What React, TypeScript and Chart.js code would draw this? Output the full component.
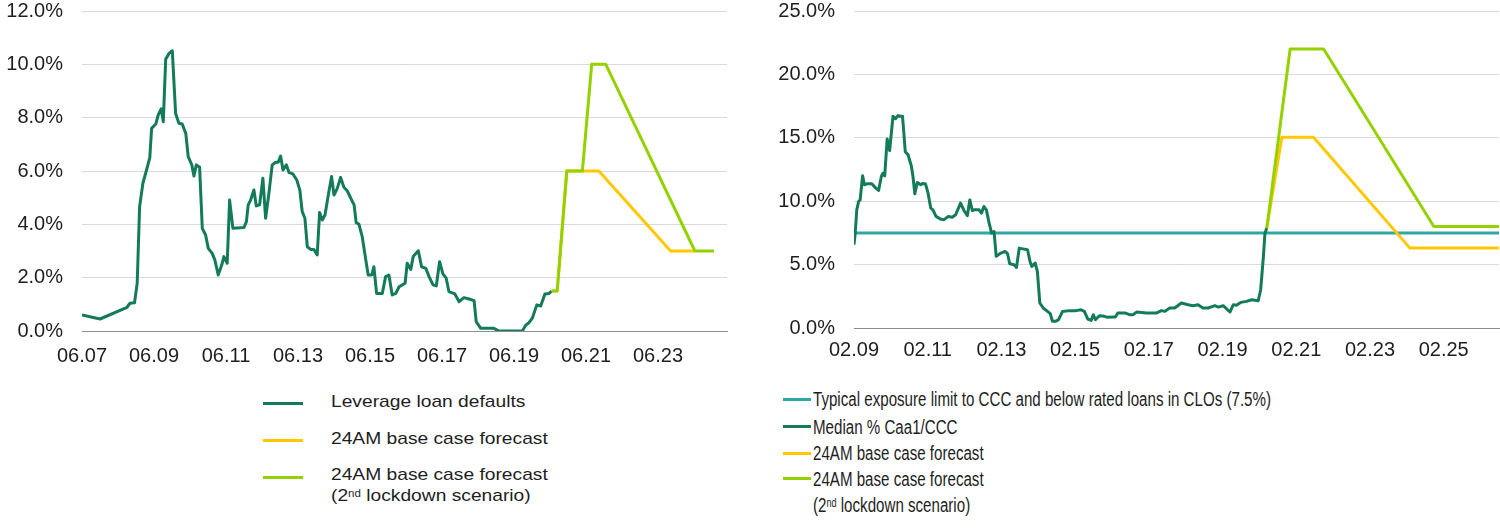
import React, { useEffect, useRef } from "react";
import { Chart, registerables } from "chart.js";

Chart.register(...registerables);

// ---------- Left chart: leverage loan defaults (x = months since 06.07) ----------
const leftTickLabels = ["06.07", "06.09", "06.11", "06.13", "06.15", "06.17", "06.19", "06.21", "06.23"];
const leftSeriesNames = [
  "Leverage loan defaults",
  "24AM base case forecast",
  "24AM base case forecast\n(2nd lockdown scenario)",
];

const defaultsMonth = [
  0, 6, 15, 16, 17.5, 18.4, 19.2, 20.3, 21.8, 22.6, 23.2, 24.6, 25.4, 26.4, 27.1, 27.9, 29, 30.1, 31.2, 32.3,
  33.4, 34.6, 35.4, 36.6, 37.3, 38.1, 39.2, 40.1, 41.2, 42.1, 43.4, 44.3, 45.4, 46.6, 47.3, 48.4, 49.2, 50.3,
  54, 54.8, 55.4, 56.2, 57.3, 58.1, 59.2, 60.3, 61.2, 62.3, 63.4, 64.6, 65.4, 66.2, 67, 68.1, 69, 70.3, 71.6,
  72.6, 73.4, 74.3, 75.1, 76.2, 77.3, 78.4, 79.2, 80.1, 81, 82.1, 83.2, 84, 85.1, 86.2, 87.3, 88.4, 89.9, 90.7,
  91.4, 92.3, 93.4, 94.6, 95.4, 96.6, 97.3, 98.2, 100.1, 101.2, 102.3, 103.4, 104.6, 105.7, 106.8, 107.7, 108.4,
  109.6, 110.4, 112.1, 113.2, 114.6, 115.7, 117, 118.1, 119.2, 120.3, 121.4, 122.3, 124.3, 125.7, 127.3, 129,
  130.7, 131.4, 132.9, 137.3, 139, 146.8, 147.9, 149, 150.1, 151.6, 152.9, 154.3, 155.7, 156.6,
];
const defaultsValue = [
  0.6, 0.45, 0.89, 1.04, 1.06, 1.79, 4.66, 5.54, 6.16, 6.5, 7.6, 7.76, 8.1, 8.33, 7.85, 10.19, 10.41, 10.51, 8.16, 7.79,
  7.76, 7.41, 6.54, 6.23, 5.81, 6.23, 6.14, 3.85, 3.6, 3.1, 2.91, 2.66, 2.1, 2.48, 2.79, 2.54, 4.91, 3.85,
  3.88, 4.1, 4.73, 4.91, 5.29, 4.69, 4.73, 5.73, 4.23, 5.16, 6.23, 6.33, 6.33, 6.56, 6.04, 6.23, 5.94, 5.89, 5.66,
  5.29, 4.48, 4.23, 3.16, 3.06, 3.06, 2.85, 4.44, 4.16, 4.35, 5.1, 5.79, 5.1, 5.35, 5.76, 5.39, 5.26, 4.91, 4.73,
  4.06, 4.01, 3.54, 2.66, 2.1, 2.1, 2.41, 1.41, 1.41, 2.04, 2.1, 1.35, 1.41, 1.66, 1.73, 1.79, 2.54,
  2.31, 2.79, 3.01, 2.41, 2.35, 2.04, 1.73, 1.69, 2.6, 2.14, 1.98, 1.48, 1.39, 1.1, 1.25, 1.2,
  1.14, 0.35, 0.1, 0.1, 0, 0, 0.22, 0.31, 0.48, 0.98, 0.94, 1.39, 1.41, 1.5,
];
const leftBaseMonth = [156.6, 158.4, 161.6, 172.3, 196.2, 204.3];
const leftBaseValue = [1.5, 1.5, 6.0, 6.0, 3.0, 3.0];
const leftLockMonth = [156.6, 158.4, 161.6, 166.8, 169.9, 174.6, 204.3, 210.7];
const leftLockValue = [1.5, 1.5, 6.0, 6.0, 10.0, 10.0, 3.0, 3.0];

// ---------- Right chart: median % Caa1/CCC (x = months since 02.09) ----------
const rightTickLabels = ["02.09", "02.11", "02.13", "02.15", "02.17", "02.19", "02.21", "02.23", "02.25"];
const rightSeriesNames = [
  "Typical exposure limit to CCC and below rated loans in CLOs (7.5%)",
  "Median % Caa1/CCC",
  "24AM base case forecast",
  "24AM base case forecast\n(2nd lockdown scenario)",
];

const limitMonth = [0, 210];
const limitValue = [7.5, 7.5];
const cccMonth = [
  0, 0.4, 0.9, 1.5, 2, 2.8, 3.4, 4.2, 5.8, 7.1, 8, 8.9, 9.4, 10, 10.8, 11.6, 12.7, 13.5, 14.3, 15.1, 15.8, 16.7,
  17.6, 18.7, 19.2, 19.8, 20.6, 21.7, 22.3, 23.3, 24.1, 25, 25.7, 26.7, 28.2, 29.2, 30.7, 32, 33.1, 34.7, 35.8,
  36.9, 37.7, 38.5, 39.3, 40.7, 41.5, 42.3, 43.1, 44, 44.8, 45.6, 46.3, 47.8, 49.2, 50, 50.7, 52.1, 52.9, 53.8,
  55.4, 56.5, 57.3, 57.9, 59, 59.7, 60.5, 61.6, 63, 63.9, 64.6, 65.7, 66.6, 67.9, 70.1, 72.3, 73.9, 75, 76.1,
  77.2, 77.9, 78.6, 79.9, 81.5, 82.6, 84.3, 85.1, 85.9, 88.4, 89.7, 90.8, 92.1, 95.2, 98.4, 100.1, 101.2, 102.8,
  104.4, 106.6, 108.8, 110.4, 112, 113.6, 115.3, 117.5, 118.6, 120.2, 122.4, 123.5, 124.5, 125.9, 127.8, 129.5,
  131.6, 132.4, 133.3, 133.8, 134.4,
];
const cccValue = [
  6.57, 7.48, 9.32, 9.98, 10.1, 12.0, 11.3, 11.37, 11.37, 11.03, 10.85, 11.95, 12.2, 12.0, 14.9, 14.0, 16.7, 16.5,
  16.75, 16.7, 16.7, 13.9, 13.66, 12.74, 11.95, 10.58, 11.48, 11.3, 11.4, 11.35, 10.64, 9.45, 9.32, 8.8, 8.59,
  8.53, 8.8, 8.74, 8.93, 9.85, 9.27, 8.85, 10.1, 9.27, 9.32, 9.32, 9.06, 9.58, 9.32, 8.27, 7.48, 7.6, 5.65, 5.91,
  6.04, 5.86, 5.07, 4.99, 4.78, 6.3, 6.22, 6.17, 5.25, 4.86, 5.12, 4.46, 1.97, 1.58, 1.31, 1.13, 0.53, 0.53, 0.66,
  1.31, 1.37, 1.37, 1.44, 1.31, 0.71, 0.6, 1.05, 0.66, 0.97, 0.92, 0.84, 0.87, 0.87, 1.18, 1.18, 1.05, 1.05, 1.26,
  1.18, 1.18, 1.37, 1.31, 1.58, 1.58, 1.97, 1.84, 1.76, 1.84, 1.58, 1.58, 1.76, 1.65, 1.76, 1.26, 1.84, 1.79,
  2.02, 2.1, 2.23, 2.15, 3.02, 5.65, 7.48, 7.88,
];
const rightBaseMonth = [134.4, 139.3, 149.6, 181, 210];
const rightBaseValue = [7.88, 15.05, 15.05, 6.3, 6.3];
const rightLockMonth = [134.4, 142, 152.9, 188.8, 210];
const rightLockValue = [7.88, 22.0, 22.0, 8.0, 8.0];

// ---------- styling ----------
const DARK_GREEN = "#137b5a";
const YELLOW = "#ffc800";
const LIME = "#94d100";
const TEAL = "#2ea7a6";
const TEXT = "#1e1e1e";
const GRID = "#d9d9d9";
const AXIS = "#8c8c8c";
const FONT = "'Liberation Sans', Arial, Helvetica, sans-serif";
const TICK_STEP_MONTHS = 24;

const pts = (xs: number[], ys: number[]) => xs.map((x, i) => ({ x, y: ys[i] }));

function lineDs(label: string, xs: number[], ys: number[], color: string, order: number) {
  return {
    label,
    data: pts(xs, ys),
    borderColor: color,
    backgroundColor: color,
    borderWidth: 3,
    pointRadius: 0,
    tension: 0,
    fill: false,
    order,
    borderJoinStyle: "round" as const,
  };
}

function makeOptions(p: {
  xMax: number;
  yMax: number;
  yStep: number;
  tickLabels: string[];
  yAxisWidth: number;
  xAxisHeight: number;
  rightPad: number;
  xPad: number;
}) {
  return {
    animation: false as const,
    responsive: false,
    maintainAspectRatio: false,
    layout: { padding: { left: 0, right: p.rightPad, top: 0, bottom: 0 } },
    plugins: { legend: { display: false }, tooltip: { enabled: false } },
    scales: {
      x: {
        type: "linear" as const,
        min: 0,
        max: p.xMax,
        bounds: "data" as const,
        afterBuildTicks: (axis: any) => {
          axis.ticks = p.tickLabels.map((_, i) => ({ value: i * TICK_STEP_MONTHS }));
        },
        afterFit: (s: any) => {
          s.height = p.xAxisHeight;
        },
        ticks: {
          autoSkip: false,
          maxRotation: 0,
          padding: p.xPad,
          color: TEXT,
          font: { family: FONT, size: 20 },
          callback: (v: any) => p.tickLabels[Math.round(Number(v) / TICK_STEP_MONTHS)] ?? "",
        },
        grid: { display: false, drawTicks: false },
        border: { display: true, color: AXIS, width: 1 },
      },
      y: {
        min: 0,
        max: p.yMax,
        bounds: "data" as const,
        afterFit: (s: any) => {
          s.width = p.yAxisWidth;
        },
        ticks: {
          stepSize: p.yStep,
          padding: 19,
          color: TEXT,
          font: { family: FONT, size: 20, lineHeight: 1.1 },
          callback: (v: any) => Number(v).toFixed(1) + "%",
        },
        grid: { color: GRID, lineWidth: 1, drawTicks: false },
        border: { display: false },
      },
    },
  };
}

function renderRich(t: string) {
  const m = t.match(/^(.*?\d)(nd)(.*)$/);
  if (!m) return t;
  return (
    <>
      {m[1]}
      <sup style={{ fontSize: "0.6em", lineHeight: 0, verticalAlign: "0.42em" }}>{m[2]}</sup>
      {m[3]}
    </>
  );
}

type LegendRow = { color: string; sampleTop: number; textTops: number[]; name: string };

function Legend(props: {
  rows: LegendRow[];
  sampleLeft: number;
  sampleWidth: number;
  textLeft: number;
  fontSize: number;
  scaleX: number;
}) {
  return (
    <>
      {props.rows.map((r, i) => (
        <React.Fragment key={i}>
          <div
            style={{
              position: "absolute",
              left: props.sampleLeft,
              top: r.sampleTop,
              width: props.sampleWidth,
              height: 3,
              background: r.color,
            }}
          />
          {r.name.split("\n").map((line, j) => (
            <div
              key={j}
              style={{
                position: "absolute",
                left: props.textLeft,
                top: r.textTops[j],
                fontSize: props.fontSize,
                lineHeight: 1,
                whiteSpace: "nowrap",
                color: TEXT,
                transform: `scaleX(${props.scaleX})`,
                transformOrigin: "left top",
              }}
            >
              {renderRich(line)}
            </div>
          ))}
        </React.Fragment>
      ))}
    </>
  );
}

// Chart.js reserves (half label height + tick padding) above the plot; the canvases are lifted by that tick padding.
const CANVAS_TOP = -19;
const CANVAS_H = 399;

export default function App() {
  const leftRef = useRef<HTMLCanvasElement | null>(null);
  const rightRef = useRef<HTMLCanvasElement | null>(null);

  useEffect(() => {
    document.body.style.margin = "0";
    const left = new Chart(leftRef.current as HTMLCanvasElement, {
      type: "line",
      data: {
        datasets: [
          lineDs(leftSeriesNames[0], defaultsMonth, defaultsValue, DARK_GREEN, 2),
          lineDs(leftSeriesNames[1], leftBaseMonth, leftBaseValue, YELLOW, 1),
          lineDs(leftSeriesNames[2], leftLockMonth, leftLockValue, LIME, 0),
        ],
      },
      options: makeOptions({
        xMax: 215,
        yMax: 12,
        yStep: 2,
        tickLabels: leftTickLabels,
        yAxisWidth: 82,
        xAxisHeight: 49,
        rightPad: 23,
        xPad: 13,
      }) as any,
    });
    const right = new Chart(rightRef.current as HTMLCanvasElement, {
      type: "line",
      data: {
        datasets: [
          lineDs(rightSeriesNames[0], limitMonth, limitValue, TEAL, 3),
          lineDs(rightSeriesNames[1], cccMonth, cccValue, DARK_GREEN, 2),
          lineDs(rightSeriesNames[2], rightBaseMonth, rightBaseValue, YELLOW, 1),
          lineDs(rightSeriesNames[3], rightLockMonth, rightLockValue, LIME, 0),
        ],
      },
      options: makeOptions({
        xMax: 210,
        yMax: 25,
        yStep: 5,
        tickLabels: rightTickLabels,
        yAxisWidth: 104,
        xAxisHeight: 52,
        rightPad: 1,
        xPad: 10,
      }) as any,
    });
    return () => {
      left.destroy();
      right.destroy();
    };
  }, []);

  const leftRows: LegendRow[] = [
    { color: DARK_GREEN, sampleTop: 401.8, textTops: [392.9], name: leftSeriesNames[0] },
    { color: YELLOW, sampleTop: 439.2, textTops: [429.6], name: leftSeriesNames[1] },
    { color: LIME, sampleTop: 475.8, textTops: [466.3, 487.3], name: leftSeriesNames[2] },
  ];
  const rightRows: LegendRow[] = [
    { color: TEAL, sampleTop: 397.8, textTops: [389.1], name: rightSeriesNames[0] },
    { color: DARK_GREEN, sampleTop: 425.2, textTops: [417.1], name: rightSeriesNames[1] },
    { color: YELLOW, sampleTop: 451.8, textTops: [443.1], name: rightSeriesNames[2] },
    { color: LIME, sampleTop: 476.8, textTops: [469.1, 494.8], name: rightSeriesNames[3] },
  ];

  return (
    <div
      style={{
        position: "absolute",
        left: 0,
        top: 0,
        width: 1500,
        height: 531,
        background: "#ffffff",
        fontFamily: FONT,
        overflow: "hidden",
      }}
    >
      <canvas
        ref={leftRef}
        width={750}
        height={CANVAS_H}
        style={{ position: "absolute", left: 0, top: CANVAS_TOP, width: 750, height: CANVAS_H }}
      />
      <canvas
        ref={rightRef}
        width={750}
        height={CANVAS_H}
        style={{ position: "absolute", left: 750, top: CANVAS_TOP, width: 750, height: CANVAS_H }}
      />
      <Legend rows={leftRows} sampleLeft={263} sampleWidth={40} textLeft={331} fontSize={17} scaleX={1.13} />
      <Legend rows={rightRows} sampleLeft={783} sampleWidth={28} textLeft={813} fontSize={20} scaleX={0.756} />
    </div>
  );
}
